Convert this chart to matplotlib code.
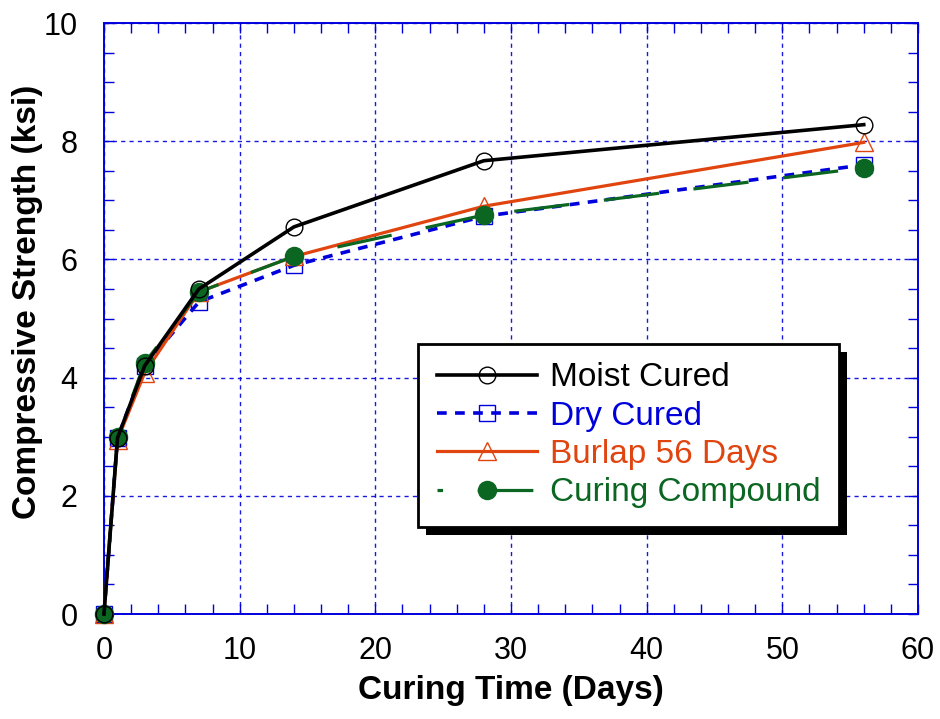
import matplotlib
matplotlib.use("Agg")
import matplotlib.pyplot as plt
from matplotlib.patches import Rectangle
from matplotlib.transforms import IdentityTransform
from matplotlib.ticker import MultipleLocator

plt.rcParams["font.family"] = ["Liberation Sans", "DejaVu Sans"]
plt.rcParams["lines.scale_dashes"] = False

days = [0, 1, 3, 7, 14, 28, 56]
moist = [0.0, 2.98, 4.2, 5.5, 6.55, 7.67, 8.28]
dry = [0.0, 2.98, 4.2, 5.28, 5.9, 6.73, 7.6]
burlap = [0.0, 2.95, 4.08, 5.45, 6.05, 6.9, 7.98]
compound = [0.0, 3.0, 4.25, 5.45, 6.05, 6.75, 7.55]

BLUE = "#0000dd"
ORANGE = "#e0440f"
GREEN = "#0b6622"

fig = plt.figure(figsize=(9.4, 7.19), dpi=100)
ax = fig.add_axes([0.1106, 0.146, 0.866, 0.822])

ax.plot(days, dry, color=BLUE, lw=2.6, ls=(0, (7, 6)), marker="s", ms=12,
        mfc="none", mec=BLUE, mew=1.0, label="Dry Cured", zorder=3, clip_on=False)
ax.plot(days, burlap, color=ORANGE, lw=2.3, marker="^", ms=13,
        mfc="none", mec=ORANGE, mew=1.0, label="Burlap 56 Days", zorder=3.2, clip_on=False)
ax.plot(days, compound, color=GREEN, lw=2.3, ls=(36, (40, 25)), marker="o", ms=13,
        mfc=GREEN, mec=GREEN, label="Curing Compound", zorder=3.4, clip_on=False)
ax.plot(days, moist, color="black", lw=2.6, marker="o", ms=12,
        mfc="none", mec="black", mew=1.0, label="Moist Cured", zorder=3.6, clip_on=False)

ax.set_xlim(0, 60)
ax.set_ylim(0, 10)
ax.xaxis.set_major_locator(MultipleLocator(10))
ax.xaxis.set_minor_locator(MultipleLocator(2))
ax.yaxis.set_major_locator(MultipleLocator(2))
ax.yaxis.set_minor_locator(MultipleLocator(0.5))
ax.grid(True, which="major", color=BLUE, lw=1.0, ls=(0, (3, 3)), alpha=0.9)
ax.tick_params(which="both", direction="in", top=True, right=True,
               color=BLUE, width=1.0, length=7, labelsize=22)
ax.tick_params(axis="x", pad=16)
ax.tick_params(axis="y", pad=19)
for sp in ax.spines.values():
    sp.set_color(BLUE)
    sp.set_linewidth(1.4)

ax.set_xlabel("Curing Time (Days)", fontsize=24, fontweight="bold", labelpad=6)
ax.set_ylabel("Compressive Strength (ksi)", fontsize=24, fontweight="bold")
ax.yaxis.set_label_coords(-0.075, 0.528)

# legend order follows the reference: moist, dry, burlap, compound
h, l = ax.get_legend_handles_labels()
order = [3, 0, 1, 2]
leg = ax.legend([h[i] for i in order], [l[i] for i in order],
                loc="upper left", bbox_to_anchor=(0.386, 0.457), borderaxespad=0,
                fontsize=24, handlelength=3.0, handletextpad=0.4, labelspacing=0.22,
                borderpad=0.55, fancybox=False, framealpha=1, edgecolor="black")
leg.get_frame().set_linewidth(2.0)
leg.set_zorder(6)
for txt, c in zip(leg.get_texts(), ["black", BLUE, ORANGE, GREEN]):
    txt.set_color(c)

# drop shadow behind the legend box
fig.canvas.draw()
bb = leg.get_window_extent()
ax.add_patch(Rectangle((bb.x0 + 8, bb.y0 - 8), bb.width, bb.height,
                       transform=IdentityTransform(), facecolor="black",
                       edgecolor="none", zorder=5.9, clip_on=False))

fig.savefig("out.png", dpi=100)
